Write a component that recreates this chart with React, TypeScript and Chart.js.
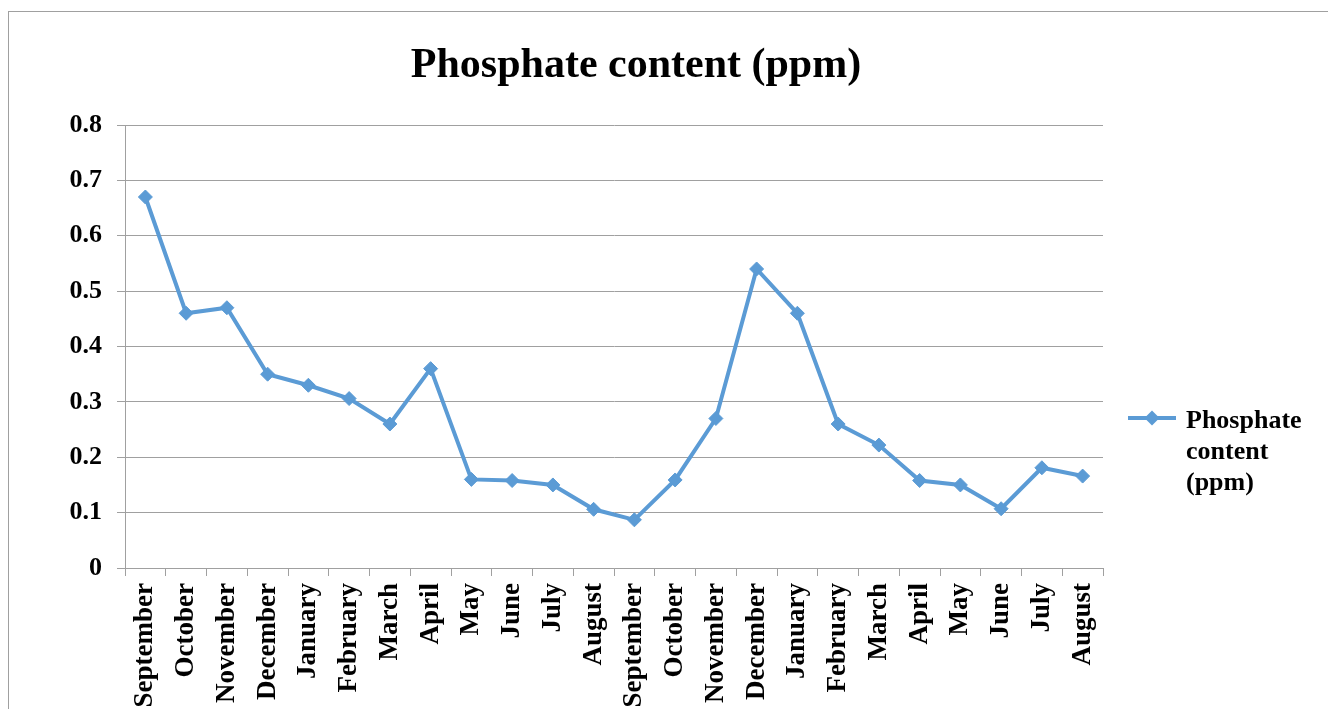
import React, { useEffect, useRef } from 'react';
import { Chart, registerables } from 'chart.js';

Chart.register(...registerables);

const chartTitle = 'Phosphate content (ppm)';
const seriesLabel = 'Phosphate content (ppm)';
const legendLines = ['Phosphate', 'content', '(ppm)'];

const categories = [
  'September', 'October', 'November', 'December', 'January', 'February',
  'March', 'April', 'May', 'June', 'July', 'August',
  'September', 'October', 'November', 'December', 'January', 'February',
  'March', 'April', 'May', 'June', 'July', 'August',
];

const phosphate = [
  0.67, 0.46, 0.47, 0.35, 0.33, 0.306, 0.26, 0.36, 0.16, 0.158, 0.15, 0.106,
  0.087, 0.159, 0.27, 0.54, 0.46, 0.26, 0.222, 0.158, 0.15, 0.107, 0.181, 0.166,
];

const yTickLabels = ['0', '0.1', '0.2', '0.3', '0.4', '0.5', '0.6', '0.7', '0.8'];

const BLUE = '#5b9bd5';
const GRID = '#a0a0a0';
const FONT = '"Liberation Serif", "Times New Roman", serif';

const decorPlugin = {
  id: 'decor',
  afterDraw(chart: any) {
    const ctx = chart.ctx as CanvasRenderingContext2D;
    ctx.save();
    ctx.fillStyle = '#000';
    ctx.font = `bold 42px ${FONT}`;
    ctx.textAlign = 'center';
    ctx.textBaseline = 'alphabetic';
    ctx.fillText(chartTitle, 627, 65);

    // legend
    const ly = 406;
    ctx.strokeStyle = BLUE;
    ctx.lineWidth = 4;
    ctx.beginPath();
    ctx.moveTo(1119, ly);
    ctx.lineTo(1167, ly);
    ctx.stroke();
    const cx = 1143;
    const r = 7.5;
    ctx.fillStyle = BLUE;
    ctx.beginPath();
    ctx.moveTo(cx, ly - r);
    ctx.lineTo(cx + r, ly);
    ctx.lineTo(cx, ly + r);
    ctx.lineTo(cx - r, ly);
    ctx.closePath();
    ctx.fill();

    ctx.fillStyle = '#000';
    ctx.font = `bold 26px ${FONT}`;
    ctx.textAlign = 'left';
    legendLines.forEach((t, i) => ctx.fillText(t, 1177, 416 + i * 31));
    ctx.restore();
  },
};

export default function App() {
  const ref = useRef<HTMLCanvasElement | null>(null);

  useEffect(() => {
    if (!ref.current) return;
    Chart.defaults.font.family = FONT;
    Chart.defaults.color = '#000';
    const chart = new Chart(ref.current, {
      type: 'line',
      data: {
        labels: categories,
        datasets: [
          {
            label: seriesLabel,
            data: phosphate,
            borderColor: BLUE,
            backgroundColor: BLUE,
            borderWidth: 4,
            tension: 0,
            pointStyle: 'rectRot',
            pointRadius: 7,
            pointBackgroundColor: BLUE,
            pointBorderColor: BLUE,
            pointBorderWidth: 1,
          },
        ],
      },
      options: {
        animation: false,
        responsive: false,
        layout: { padding: { left: 0, top: 113, right: 225, bottom: 0 } },
        plugins: {
          legend: { display: false },
          title: { display: false },
          tooltip: { enabled: false },
        },
        scales: {
          x: {
            offset: true,
            grid: {
              offset: true,
              drawOnChartArea: false,
              drawTicks: true,
              tickLength: 8,
              color: GRID,
            },
            border: { display: true, color: GRID },
            ticks: {
              autoSkip: false,
              maxRotation: 90,
              minRotation: 90,
              padding: 7,
              color: '#000',
              font: { family: FONT, size: 27, weight: 'bold' },
            },
            afterFit: (scale: any) => {
              scale.height = 141;
            },
          },
          y: {
            min: 0,
            max: 0.8,
            ticks: {
              stepSize: 0.1,
              padding: 15,
              color: '#000',
              font: { family: FONT, size: 26, weight: 'bold' },
              callback: (_v: any, i: number) => yTickLabels[i],
            },
            grid: { color: GRID, tickLength: 8, lineWidth: 1 },
            border: { display: true, color: GRID },
            afterFit: (scale: any) => {
              scale.width = 116;
            },
          },
        },
      },
      plugins: [decorPlugin],
    });
    return () => chart.destroy();
  }, []);

  return (
    <div
      style={{
        position: 'fixed',
        left: 0,
        top: 0,
        width: 1328,
        height: 709,
        overflow: 'hidden',
        background: '#fff',
      }}
    >
      <div
        style={{
          position: 'absolute',
          left: 8,
          top: 11,
          width: 1400,
          height: 800,
          border: '1px solid #a0a0a0',
          boxSizing: 'border-box',
        }}
      >
        <canvas ref={ref} width={1319} height={697} style={{ display: 'block' }} />
      </div>
    </div>
  );
}
